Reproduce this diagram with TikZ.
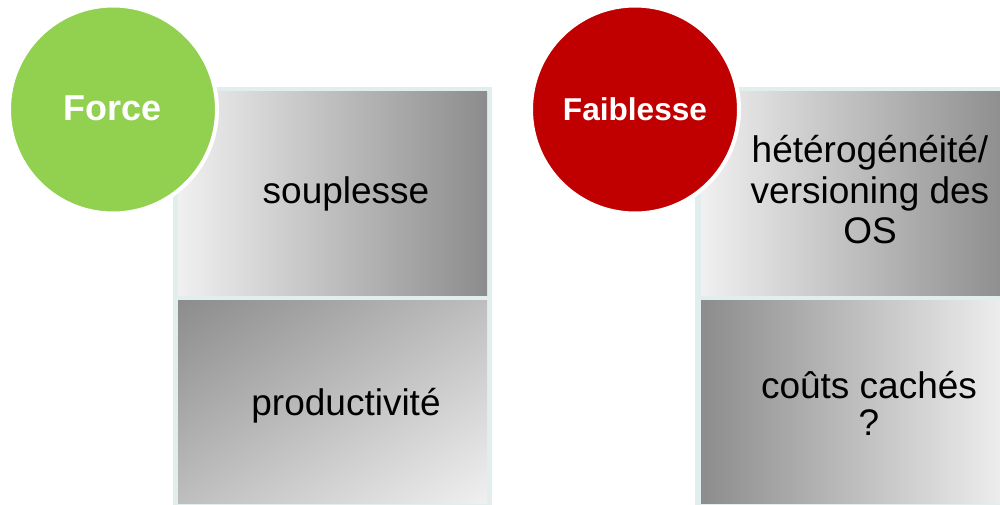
\documentclass[tikz,border=0pt]{standalone}
\usepackage{fontspec}
\setmainfont{Liberation Sans}
\definecolor{forcegreen}{HTML}{92D050}
\definecolor{weakred}{HTML}{C00000}
\definecolor{framecol}{HTML}{E2EEEE}
\definecolor{shadelight}{HTML}{F0F0F0}
\definecolor{shadedark}{HTML}{8C8C8C}
% corner-to-corner grey gradient: dark at top left, light at bottom right
\pgfdeclarefunctionalshading{diagpanel}{\pgfpoint{-50bp}{-50bp}}{\pgfpoint{50bp}{50bp}}{}{
  sub 100 div 0.5 add
  0.392 mul 0.549 add
  dup 1 gt {pop 1} if
  dup 0 lt {pop 0} if
  dup dup
}
\begin{document}
\begin{tikzpicture}[x=1pt,y=-1pt,
  framebox/.style={fill=framecol, draw=none},
  panel/.style={rectangle, draw=none, minimum width=309pt, minimum height=203pt, inner sep=0pt, outer sep=0pt},
  lightdark/.style={shading=axis, left color=shadelight, right color=shadedark},
  darklight/.style={shading=axis, left color=shadedark, right color=shadelight},
  diagshade/.style={shading=diagpanel},
  badge/.style={circle, minimum size=208pt, inner sep=0pt, draw=white, line width=4pt, text=white},
  paneltext/.style={text=black, font=\fontsize{37}{40.5}\selectfont, align=center, inner sep=0pt}
]
\useasboundingbox (0,0) rectangle (1000,505);

% light frames behind the panels
\fill[framebox] (173,87) rectangle (492,510);
\fill[framebox] (695,87) rectangle (1016,510);

% left column: strengths
\node[panel, lightdark] (p1) at (332.5,193.5) {};
\node[panel, diagshade] (p2) at (332.5,401.5) {};
\node[paneltext, anchor=base] (t1) at (346,204) {souplesse};
\node[paneltext, anchor=base] (t2) at (346,415) {productivité};

% right column: weaknesses
\node[panel, lightdark] (p3) at (855.5,193.5) {};
\node[panel, darklight] (p4) at (855.5,401.5) {};
\node[paneltext] (t3) at (870,190) {hétérogénéité/\\versioning des\\OS};
\node[paneltext, font=\fontsize{37}{37}\selectfont] (t4) at (869,403) {coûts cachés\\?};

% round badges
\node[badge, fill=forcegreen, font=\fontsize{36}{40}\selectfont\bfseries] (force) at (113,109.5) {\raisebox{2pt}{Force}};
\node[badge, fill=weakred, font=\fontsize{31.6}{36}\selectfont\bfseries] (faible) at (635,109.5) {Faiblesse};
\end{tikzpicture}
\end{document}
